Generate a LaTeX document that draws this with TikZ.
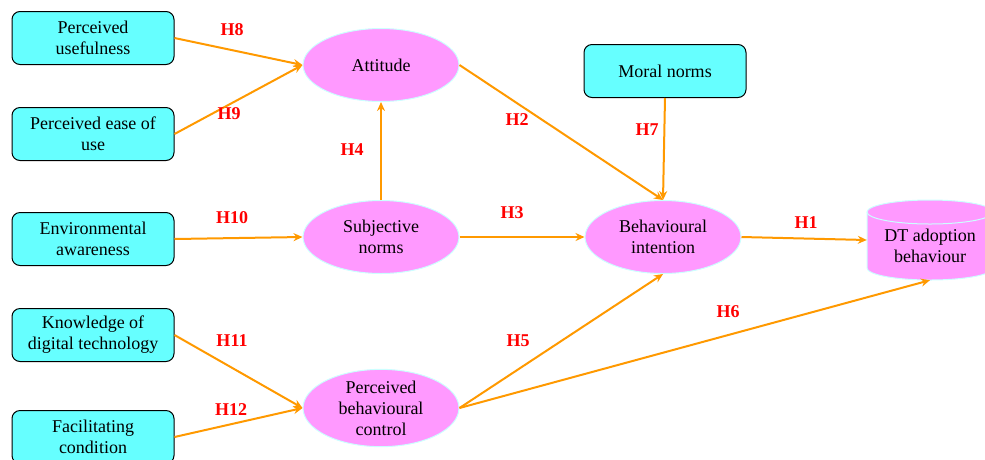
\documentclass[tikz,border=0pt]{standalone}
\usepackage{fontspec}
\setmainfont{Liberation Serif}
\usetikzlibrary{shapes.geometric,arrows.meta}
\definecolor{boxcyan}{HTML}{66FFFF}
\definecolor{ellpink}{HTML}{FF99FF}
\definecolor{ellline}{HTML}{CCFFFF}
\definecolor{arrorange}{HTML}{FF9900}
\definecolor{hred}{HTML}{FF0000}
\tikzset{
  sqbox/.style={draw=black, line width=1pt, fill=boxcyan, rounded corners=8pt,
    minimum width=162pt, minimum height=53pt, inner sep=0pt, align=center,
    font=\fontsize{18}{21}\selectfont},
  ellnode/.style={ellipse, draw=ellline, line width=1pt, fill=ellpink,
    minimum width=156pt, minimum height=73pt, inner sep=0pt, align=center,
    font=\fontsize{18}{21}\selectfont},
  conn/.style={draw=arrorange, line width=2pt, -{Stealth[length=9pt,width=8pt]}},
  hlab/.style={text=hred, font=\fontsize{18}{20}\selectfont\bfseries, inner sep=0pt}
}
\begin{document}
\begin{tikzpicture}[x=1pt,y=-1pt]
\useasboundingbox (0,0) rectangle (985,459);
% boxes
\node[sqbox] (pu) at (93,38) {Perceived\\usefulness};
\node[sqbox] (peu) at (93,134) {Perceived ease of\\use};
\node[sqbox] (ea) at (93,239) {Environmental\\awareness};
\node[sqbox] (kdt) at (93,335) {Knowledge of\\digital technology};
\node[sqbox] (fc) at (93,437) {Facilitating\\condition};
\node[sqbox] (mn) at (665,71) {Moral norms};
% ellipses
\node[ellnode] (att) at (381,65) {Attitude};
\node[ellnode] (sn) at (381,237) {Subjective\\norms};
\node[ellnode] (pbc) at (381,408) {Perceived\\behavioural\\control};
\node[ellnode] (bi) at (663,237) {Behavioural\\intention};
% cylinder
\node[draw=none, minimum width=126pt, minimum height=80pt, inner sep=0pt] (dt) at (930,240) {};
\fill[ellpink] (867,212) -- (867,268) arc[start angle=180, end angle=0, x radius=63, y radius=12]
  -- (993,212) arc[start angle=0, end angle=-180, x radius=63, y radius=12] -- cycle;
\draw[ellline, line width=1pt] (867,212) -- (867,268) arc[start angle=180, end angle=0, x radius=63, y radius=12]
  -- (993,212);
\draw[ellline, line width=1pt] (930,212) ellipse[x radius=63, y radius=12];
\node[align=center, font=\fontsize{18}{21}\selectfont] at (930,246) {DT adoption\\behaviour};
% connectors
\draw[conn] (pu.east) -- (att.west);
\draw[conn] (peu.east) -- (att.west);
\draw[conn] (att.east) -- (bi.north);
\draw[conn] (mn.south) -- (bi.north);
\draw[conn] (sn.north) -- (att.south);
\draw[conn] (ea.east) -- (sn.west);
\draw[conn] (sn.east) -- (bi.west);
\draw[conn] (bi.east) -- (dt.west);
\draw[conn] (kdt.east) -- (pbc.west);
\draw[conn] (fc.east) -- (pbc.west);
\draw[conn] (pbc.east) -- (bi.south);
\draw[conn] (pbc.east) -- (dt.south);
% labels
\node[hlab] (h8) at (232,30) {H8};
\node[hlab] (h9) at (229,114) {H9};
\node[hlab] (h4) at (352,150) {H4};
\node[hlab] (h2) at (517,120) {H2};
\node[hlab] (h7) at (647,130) {H7};
\node[hlab] (h3) at (512,213) {H3};
\node[hlab] (h10) at (232,218) {H10};
\node[hlab] (h1) at (806,223) {H1};
\node[hlab] (h11) at (232,341) {H11};
\node[hlab] (h12) at (231,410) {H12};
\node[hlab] (h5) at (518,341) {H5};
\node[hlab] (h6) at (728,312) {H6};
\end{tikzpicture}
\end{document}
